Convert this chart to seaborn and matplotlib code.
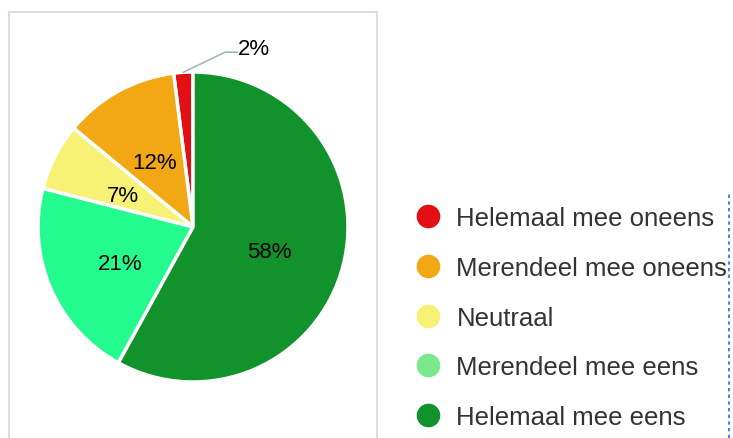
import numpy as np
import seaborn as sns
import matplotlib
matplotlib.use("Agg")
import matplotlib.pyplot as plt
from matplotlib.lines import Line2D
from matplotlib.patches import Rectangle

# answer categories (counter-clockwise from the top)
categories = ["Helemaal mee oneens", "Merendeel mee oneens", "Neutraal",
              "Merendeel mee eens", "Helemaal mee eens"]
percentages = [2, 12, 7, 21, 58]
slice_colors = ["#e31013", "#f2a815", "#f7f276", "#24fb8e", "#12922b"]
legend_colors = ["#e31013", "#f2a815", "#f7f276", "#7be88e", "#12922b"]

sns.set_style("white")
plt.rcParams["font.family"] = ["Liberation Sans", "DejaVu Sans"]

fig = plt.figure(figsize=(7.33, 4.39), dpi=100)
W, H = 733, 439

# panel border around the pie
fig.patches.append(Rectangle((9 / W, -0.05), 368 / W, (H - 13) / H + 0.05,
                             transform=fig.transFigure, fill=False,
                             edgecolor="#d5dfe0", linewidth=1.5))
# dotted separator on the right
fig.add_artist(Line2D([729 / W, 729 / W], [0, (H - 195) / H],
                      transform=fig.transFigure, color="#1a73e8",
                      linewidth=1.2, linestyle=(0, (2, 2))))

ax = fig.add_axes([38 / W, 56 / H, 310 / W, 310 / H])
wedges, _ = ax.pie(percentages, colors=slice_colors, startangle=90,
                   counterclock=True, radius=1,
                   wedgeprops=dict(edgecolor="white", linewidth=2.5))
ax.set_xlim(-1, 1)
ax.set_ylim(-1, 1)
ax.set_aspect("equal")
ax.axis("off")

for w, p in zip(wedges, percentages):
    mid = np.deg2rad((w.theta1 + w.theta2) / 2)
    if p < 5:
        # small slice: leader line to the outside
        x0, y0 = np.cos(mid), np.sin(mid)
        x1, y1 = x0 + 0.27, y0 + 0.13
        x2 = x1 + 0.08
        ax.add_line(Line2D([x0, x1, x2], [y0, y1, y1], color="#a6b8b8",
                           linewidth=1.2, clip_on=False))
        ax.text(x2 + 0.005, y1 + 0.025, f"{p}%", ha="left", va="center",
                fontsize=16, color="black", clip_on=False)
    else:
        r = 0.51
        ax.text(r * np.cos(mid), r * np.sin(mid) - 0.03, f"{p}%", ha="center",
                va="center", fontsize=16, color="black")

handles = [Line2D([], [], marker="o", linestyle="none", markersize=16,
                  markerfacecolor=c, markeredgecolor=c) for c in legend_colors]
fig.legend(handles, categories, loc="upper left",
           bbox_to_anchor=(405 / W, (H - 197) / H), frameon=False,
           fontsize=18.5, labelcolor="#333333", handletextpad=0.6,
           labelspacing=1.0, handlelength=1.0, borderaxespad=0)

fig.savefig("out.png", dpi=100)
